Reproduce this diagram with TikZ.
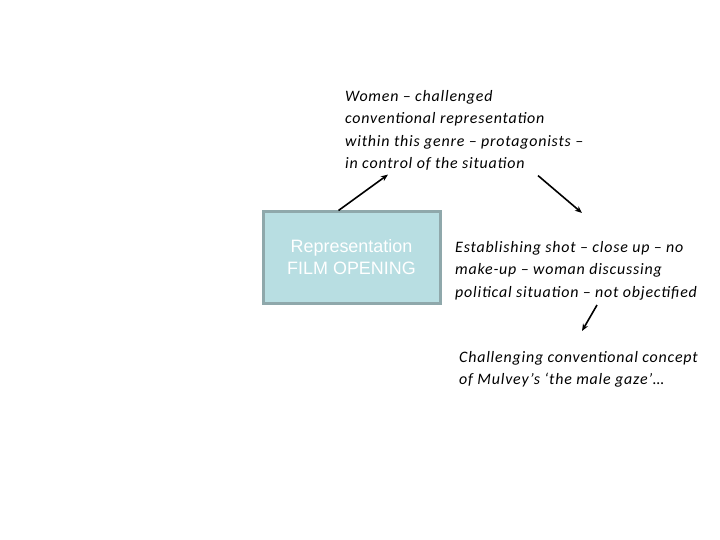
\documentclass[tikz,border=0pt]{standalone}
\usepackage{fontspec}
\setmainfont{Carlito}[LetterSpace=5]
\newfontfamily\boxfont{Liberation Sans}
\usepackage{tikz}
\usetikzlibrary{positioning,arrows.meta}
\definecolor{boxfill}{RGB}{184,222,226}
\definecolor{boxedge}{RGB}{143,168,171}

\begin{document}
\begin{tikzpicture}[
  x=1bp, y=-1bp,
  note/.style={align=left, inner sep=0pt, anchor=north west, font=\fontsize{16}{22.5}\selectfont\itshape},
  film/.style={rectangle, draw=boxedge, fill=boxfill, line width=3bp, minimum width=177bp, minimum height=91bp, align=center, text=white, font=\boxfont\fontsize{18}{22}\selectfont},
  line/.style={draw=black, line width=1.6bp, -{Stealth[length=2.5mm, width=2mm]}}
]
  \useasboundingbox (0,0) rectangle (720,540);

  % Nodes
  \node[film] (film) at (351.5,257.5) {Representation\\FILM OPENING};

  \node[note] (women) at (345,90) {
    Women -- challenged\\
    conventional representation\\
    within this genre -- protagonists --\\
    in control of the situation
  };

  \node[note] (shot) at (455,241) {
    Establishing shot -- close up -- no\\
    make-up -- woman discussing\\
    political situation -- not objectified
  };

  \node[note] (gaze) at (459,351) {
    Challenging conventional concept\\
    of Mulvey's `the male gaze'\ldots
  };

  % Arrows
  \path[line] ([xshift=-13bp]film.north) -- ([xshift=43bp,yshift=-4bp]women.south west);
  \path[line] ([xshift=193bp,yshift=-5bp]women.south west) -- ([xshift=127bp,yshift=28bp]shot.north west);
  \path[line] ([xshift=142bp,yshift=-5bp]shot.south west) -- ([xshift=123bp,yshift=20bp]gaze.north west);

\end{tikzpicture}
\end{document}
